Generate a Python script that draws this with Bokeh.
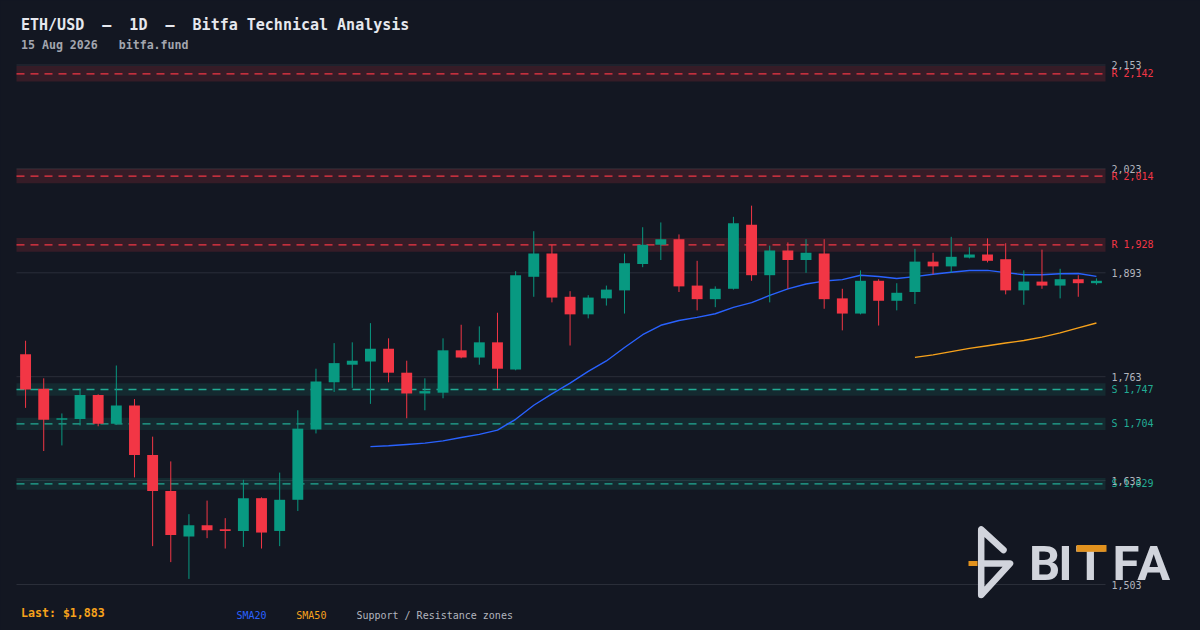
import pandas as pd
from bokeh.plotting import figure
from bokeh.models import Range1d
from bokeh.core.properties import value
from bokeh.embed import file_html
from bokeh.resources import INLINE

# ---------------- data ----------------
opens = [1791, 1748, 1709, 1710, 1740, 1704, 1727, 1665, 1620, 1563,
         1577, 1572, 1570, 1611, 1570, 1609, 1697, 1756, 1778, 1782,
         1798, 1768, 1742, 1743, 1796, 1787, 1806, 1772, 1888, 1917,
         1863, 1841, 1861, 1871, 1904, 1928, 1935, 1877, 1860, 1873,
         1953, 1890, 1921, 1909, 1917, 1861, 1842, 1883, 1858, 1869,
         1907, 1901, 1912, 1916, 1910, 1871, 1882, 1877, 1885, 1880]
highs = [1808, 1761, 1717, 1748, 1741, 1777, 1735, 1688, 1657, 1591,
         1608, 1586, 1634, 1612, 1643, 1721, 1773, 1805, 1806, 1830,
         1811, 1783, 1761, 1811, 1828, 1826, 1843, 1895, 1945, 1928,
         1870, 1865, 1877, 1917, 1950, 1956, 1941, 1908, 1876, 1963,
         1977, 1927, 1931, 1935, 1935, 1873, 1896, 1885, 1880, 1923,
         1918, 1938, 1925, 1936, 1930, 1896, 1922, 1898, 1890, 1886]
lows = [1724, 1670, 1677, 1702, 1701, 1703, 1637, 1551, 1531, 1510,
        1561, 1548, 1550, 1548, 1551, 1595, 1692, 1744, 1749, 1729,
        1756, 1711, 1721, 1736, 1786, 1778, 1748, 1771, 1863, 1856,
        1802, 1836, 1852, 1842, 1900, 1909, 1869, 1846, 1850, 1872,
        1883, 1856, 1873, 1893, 1848, 1821, 1841, 1827, 1846, 1854,
        1891, 1893, 1911, 1906, 1866, 1853, 1873, 1861, 1863, 1878]
closes = [1747, 1709, 1711, 1740, 1704, 1727, 1665, 1620, 1565, 1577,
          1571, 1570, 1611, 1568, 1609, 1698, 1757, 1780, 1783, 1798,
          1768, 1742, 1745, 1796, 1787, 1806, 1773, 1890, 1917, 1862,
          1841, 1862, 1872, 1905, 1928, 1935, 1876, 1860, 1873, 1955,
          1890, 1921, 1909, 1918, 1860, 1842, 1883, 1858, 1868, 1907,
          1901, 1913, 1916, 1908, 1871, 1882, 1877, 1885, 1880, 1883]

resistance_levels = [2142, 2014, 1928]
support_levels = [1747, 1704, 1629]
price_ticks = [1503, 1633, 1763, 1893, 2023, 2153]

NB = "\u00a0"
title_text = f"ETH/USD {NB}—{NB} 1D {NB}—{NB} Bitfa Technical Analysis"
subtitle_text = f"15 Aug 2026 {NB} bitfa.fund"
last_text = "Last: $1,883"
legend_items = ["SMA20", "SMA50", "Support / Resistance zones"]
logo_letters = ["B", "I", "T", "F", "A"]

# ---------------- styles ----------------
BG = "#131722"
GRID = "#2a2e39"
UP = "#089981"
DOWN = "#f23645"
RES = "#f23645"
SUP = "#22ab94"
TICK_TXT = "#b2b5be"
SMA20_C = "#2962ff"
SMA50_C = "#f7a21b"
LOGO_GREY = "#d1d4dc"
LOGO_ORANGE = "#e2921e"
MONO = value("DejaVu Sans Mono")

# page-pixel -> data helpers (layout only)
N = len(closes)
PX_PER_I = (1105 - 16) / N


def dx(X):
    return -0.5 + (X - 16) / PX_PER_I


PX_PER_V = (584 - 64.5) / (price_ticks[-1] - price_ticks[0])


def dy(Y):
    return price_ticks[-1] - (Y - 64.5) / PX_PER_V


W, H = 1200, 630
p = figure(width=W, height=H, output_backend="svg", toolbar_location=None,
           x_range=Range1d(dx(0), dx(W)), y_range=Range1d(dy(H), dy(0)),
           x_axis_location=None, y_axis_location=None, min_border=0,
           background_fill_color=BG, border_fill_color=BG, outline_line_color=None)
p.grid.visible = False

x_left, x_right = -0.5, N - 0.5
idx = list(range(N))

# grid lines
p.segment(x0=[x_left] * len(price_ticks), x1=[x_right] * len(price_ticks),
          y0=price_ticks, y1=price_ticks, line_color=GRID, line_width=1)

# zones
ZONE = 0.0045
for levels, col, alpha in ((resistance_levels, RES, 0.16), (support_levels, SUP, 0.13)):
    p.quad(left=[x_left] * len(levels), right=[x_right] * len(levels),
           bottom=[v * (1 - ZONE) for v in levels], top=[v * (1 + ZONE) for v in levels],
           fill_color=col, fill_alpha=alpha, line_color=None)
    p.segment(x0=[x_left] * len(levels), x1=[x_right] * len(levels), y0=levels, y1=levels,
              line_color=col, line_width=1.3, line_dash="8 6")

# moving averages
cs = pd.Series(closes, dtype=float)
for win, col in ((20, SMA20_C), (50, SMA50_C)):
    sma = cs.rolling(win).mean()
    xs = [i for i in idx if not pd.isna(sma[i])]
    p.line(xs, [sma[i] for i in xs], line_color=col, line_width=1.4)

# candles
colors = [UP if c >= o else DOWN for o, c in zip(opens, closes)]
p.segment(x0=idx, x1=idx, y0=lows, y1=highs, line_color=colors, line_width=1)
p.vbar(x=idx, width=0.6, bottom=[min(o, c) for o, c in zip(opens, closes)],
       top=[max(o, c) for o, c in zip(opens, closes)], fill_color=colors, line_color=None)

# logo
p.line([dx(1003), dx(980.7), dx(980.7), dx(1009.5), dx(980.7)],
       [dy(549.5), dy(529), dy(594.5), dy(563), dy(563)],
       line_color=LOGO_GREY, line_width=6.5, line_cap="round", line_join="round")
p.segment(x0=[dx(968)], x1=[dx(977)], y0=[dy(563)], y1=[dy(563)],
          line_color=LOGO_ORANGE, line_width=5)
letter_centres = [1044.2, 1065, 1090, 1125.5, 1153.3]
p.text(x=[dx(c) for c in letter_centres], y=[dy(562.5)] * 5, text=logo_letters,
       text_font=value("Roboto"), text_font_style="bold", text_font_size=value("49px"),
       text_color=LOGO_GREY, text_align="center", text_baseline="middle")
p.quad(left=[dx(1076)], right=[dx(1106)], top=[dy(544.5)], bottom=[dy(551.3)],
       fill_color=LOGO_ORANGE, line_color=None)

# right price labels
p.text(x=[dx(1111)] * len(price_ticks), y=price_ticks, text=[f"{v:,}" for v in price_ticks],
       text_font=MONO, text_font_size=value("10px"), text_color=TICK_TXT,
       text_align="left", text_baseline="middle")
p.text(x=[dx(1111)] * len(resistance_levels), y=resistance_levels,
       text=[f"R {v:,}" for v in resistance_levels], text_font=MONO,
       text_font_size=value("10px"), text_color=RES, text_align="left", text_baseline="middle")
p.text(x=[dx(1111)] * len(support_levels), y=support_levels,
       text=[f"S {v:,}" for v in support_levels], text_font=MONO,
       text_font_size=value("10px"), text_color=SUP, text_align="left", text_baseline="middle")

# titles
p.text(x=[dx(20.5)], y=[dy(24.2)], text=[title_text], text_font=MONO, text_font_style="bold",
       text_font_size=value("15px"), text_color="#e6e8ee", text_align="left",
       text_baseline="middle")
p.text(x=[dx(20.5)], y=[dy(44.5)], text=[subtitle_text], text_font=MONO, text_font_style="bold",
       text_font_size=value("11.6px"), text_color="#a3a6af", text_align="left",
       text_baseline="middle")

# bottom legend
p.text(x=[dx(20.5)], y=[dy(612.5)], text=[last_text], text_font=MONO, text_font_style="bold",
       text_font_size=value("11.6px"), text_color=SMA50_C, text_align="left",
       text_baseline="middle")
p.text(x=[dx(236), dx(295.8), dx(355.9)], y=[dy(614.5)] * 3, text=legend_items,
       text_font=MONO, text_font_size=value("10px"),
       text_color=[SMA20_C, SMA50_C, TICK_TXT], text_align="left", text_baseline="middle")

html = file_html(p, INLINE, title="ETH/USD 1D")
html = html.replace("</head>", "<style>html,body{background:#131722;}</style></head>", 1)
open("out.html", "w").write(html)
